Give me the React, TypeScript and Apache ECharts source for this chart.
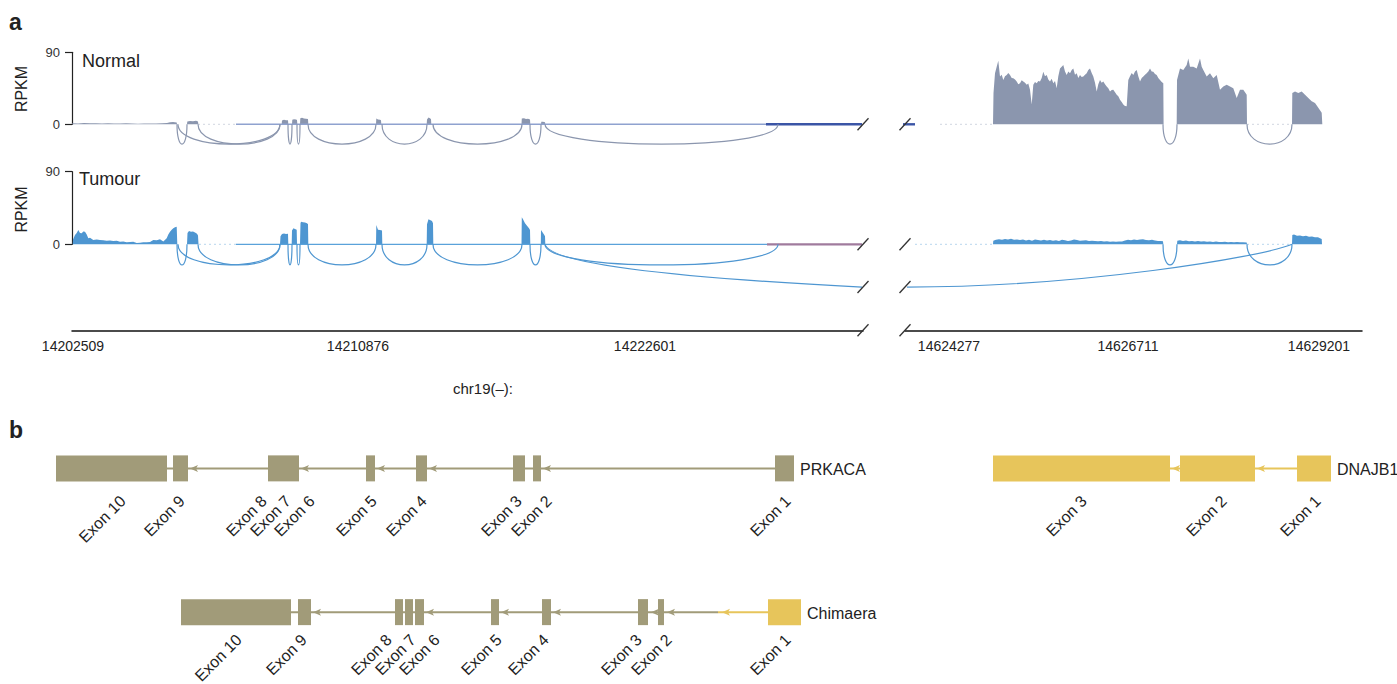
import React, { useEffect, useRef } from 'react';
import * as echarts from 'echarts';

const FONT = '"Liberation Sans", Arial, Helvetica, sans-serif';

// ---------------- Panel a : track positions (x) and RPKM (y) ----------------
const leftTicks = [73, 358, 645];
const leftTickLabels = ['14202509', '14210876', '14222601'];
const rightTicks = [949, 1128, 1319];
const rightTickLabels = ['14624277', '14626711', '14629201'];

const normalCovLeft = [
  [72, 0], [72.3, 1.4], [78, 1.1], [84, 1.5], [90, 1.2], [96, 1.4], [102, 1], [108, 1.3], [114, 1.1], [120, 0.9],
  [126, 1.2], [132, 1], [138, 0.8], [144, 1.1], [150, 0.9], [156, 1], [162, 1.2], [167, 1.6], [170, 2.6], [173, 3],
  [176.7, 2.4], [177, 0],
  [187, 0], [187.3, 3.5], [190, 4.1], [193, 3.8], [196, 4.3], [198, 3.6], [198.3, 0],
  [281.7, 0], [282, 4.6], [284, 5.6], [286, 5.2], [288, 5], [288.3, 0],
  [292, 0], [292.3, 5.6], [294, 6.3], [296, 6], [297, 5.4], [297.3, 0],
  [300, 0], [300.3, 7.6], [302, 8.2], [304, 7.2], [306, 6.9], [308, 6.5], [308.3, 0],
  [376, 0], [376.3, 7.2], [378, 6.1], [380, 5.6], [381, 5], [381.3, 0],
  [426.7, 0], [427, 6], [428.5, 8.4], [430, 7.6], [431, 6.2], [431.3, 0],
  [521.5, 0], [521.8, 7.2], [524, 7.6], [526, 6.6], [528, 6.9], [530, 6], [530.3, 0],
  [541, 0], [541.3, 3.1], [543, 3.3], [545, 2.6], [545.3, 0],
];

const normalCovRight = [
  [993, 0], [993.5, 39], [995, 63.7], [996.7, 72], [998.3, 79.3], [1000, 59.6], [1001.7, 62], [1003.3, 55.5],
  [1005, 60], [1006.7, 61.6], [1008.3, 64], [1010, 61.6], [1011.7, 58], [1013.3, 57.5], [1015, 56], [1016.7, 53.4],
  [1018.3, 50], [1020, 51.4], [1021.7, 55], [1023.3, 53.4], [1025, 52], [1026.7, 49.3], [1028.3, 51], [1030, 43.2],
  [1031.7, 24.7], [1033.3, 49.3], [1035, 53], [1036.7, 51.4], [1038.3, 54], [1040, 53.4], [1041.7, 58], [1043.3, 65.8],
  [1045, 60], [1046.7, 61.6], [1048.3, 56], [1050, 53.4], [1051.7, 57], [1053.3, 51.4], [1055, 54], [1056.7, 45.2],
  [1058.3, 60], [1060, 69.9], [1061.7, 72], [1063.3, 74], [1065, 66], [1066.7, 61.6], [1068.3, 66], [1070, 63.7],
  [1071.7, 68], [1073.3, 69.9], [1075, 62], [1076.7, 63.7], [1078.3, 58], [1080, 61.6], [1081.7, 59], [1083.3, 59.6],
  [1085, 62], [1086.7, 63.7], [1088.3, 68], [1090, 69.9], [1091.7, 64], [1093.3, 59.6], [1095, 52], [1096.7, 41.1],
  [1098.3, 50], [1100, 55.5], [1101.7, 52], [1103.3, 53.4], [1105, 50], [1106.7, 47.3], [1108.3, 45], [1110, 41.1],
  [1111.7, 43], [1113.3, 43.2], [1115, 40], [1116.7, 37], [1118.3, 35], [1120, 30.8], [1121.7, 28], [1123.3, 24.7],
  [1125, 23], [1126.7, 22.6], [1128.3, 55.5], [1130, 60], [1131.7, 64], [1133.3, 61.6], [1135, 66], [1136.7, 67.8],
  [1138.3, 60], [1140, 53.4], [1141.7, 58], [1143.3, 59.6], [1145, 62], [1146.7, 63.7], [1148.3, 66], [1150, 69.9],
  [1151.7, 66], [1153.3, 65.8], [1155, 63], [1156.7, 61.6], [1158.3, 58], [1160, 55.5], [1161.7, 53], [1163.3, 51.4],
  [1163.6, 0],
  [1176.7, 0], [1177, 55.5], [1180, 69.9], [1183.3, 67.8], [1186.7, 74], [1188.3, 82.2], [1190, 71.9], [1193.3, 71.9],
  [1196.7, 69.9], [1200, 82.2], [1201.7, 71.9], [1203.3, 67.8], [1206.7, 59.6], [1210, 63.7], [1213.3, 57.5],
  [1216.7, 61.6], [1220, 43.2], [1223.3, 47.3], [1226.7, 49.3], [1230, 47.3], [1233.3, 45.2], [1236.7, 32.9],
  [1240, 43.2], [1243.3, 43.2], [1246.7, 37], [1247, 0],
  [1292, 0], [1292.3, 39], [1295, 41.1], [1298.3, 39], [1301.7, 41.1], [1305, 37], [1308.3, 32.9], [1311.7, 28.8],
  [1315, 26.7], [1318.3, 20.6], [1321.7, 14.4], [1322.3, 0],
];

const tumourCovLeft = [
  [72.7, 0], [73, 6], [75, 11.5], [76.7, 14], [78.3, 17.7], [80, 14], [81.7, 13.6], [83.3, 16], [85, 15.6],
  [86.7, 12], [88.3, 7.4], [90, 8], [93.3, 5.3], [96.7, 6], [100, 5.3], [103.3, 5], [106.7, 4.5], [110, 4.8],
  [113.3, 4], [116.7, 4.5], [120, 3.2], [123.3, 3.5], [126.7, 2.6], [130, 3], [133.3, 3.2], [136.7, 1.5], [140, 2],
  [143.3, 2.5], [146.7, 2.6], [150, 3], [153.3, 5.3], [156.7, 5], [160, 6.2], [163.3, 3.5], [166.7, 7.4], [168.3, 12],
  [170, 15.6], [171.7, 18], [173.3, 19.8], [175, 21], [176.7, 21.8], [177.3, 0],
  [187, 0], [187.5, 14], [189, 16.5], [191, 15.6], [193, 16], [195, 14.5], [197, 13], [198, 11], [198.5, 0],
  [280, 0], [280.5, 10], [282, 12.8], [284, 13.5], [286, 12.8], [288, 13], [288.3, 0],
  [291.7, 0], [292, 17], [293.5, 19.8], [295, 19], [296.7, 18], [297, 0],
  [300, 0], [300.5, 26], [301, 28], [303, 27.2], [305, 27], [307, 26], [308, 25], [308.3, 0],
  [376, 0], [376.3, 24], [378, 18], [380, 17.6], [382, 17], [382.3, 0],
  [426.7, 0], [427, 25], [428.5, 31], [430, 30], [432, 29], [433, 26], [433.3, 0],
  [521.5, 0], [521.8, 33.4], [523, 31], [525, 26], [527, 23], [529, 20], [530, 17.7], [530.3, 0],
  [540.8, 0], [541, 17.7], [542.5, 15], [544, 12], [545, 10], [545.3, 0],
];

const tumourCovRight = [
  [993, 0], [993.3, 4.5], [996, 5.5], [999, 6.2], [1002, 5.5], [1005, 6.5], [1008, 5.8], [1011, 6.8], [1014, 5.5],
  [1017, 6], [1020, 5.2], [1023, 5.8], [1026, 4.8], [1029, 5.5], [1032, 4.5], [1035, 6], [1038, 5.2], [1041, 4.6],
  [1044, 5.5], [1047, 4.8], [1050, 5.4], [1053, 4.5], [1056, 5], [1059, 4.2], [1062, 5.6], [1065, 5], [1068, 4.2],
  [1071, 4.8], [1074, 5.8], [1077, 5.2], [1080, 4.5], [1083, 4.8], [1086, 5], [1089, 4.2], [1092, 4.5], [1095, 4],
  [1098, 3.8], [1101, 4.2], [1104, 3.6], [1107, 3.8], [1110, 3.2], [1113, 3.6], [1116, 3.3], [1119, 3.5],
  [1122, 3.4], [1125, 4.8], [1128, 5.6], [1131, 5], [1134, 6], [1137, 5.2], [1140, 5.8], [1143, 6.2], [1146, 5.4],
  [1149, 5], [1152, 5.6], [1155, 4.6], [1158, 4.2], [1161, 4], [1163, 3.8], [1163.3, 0],
  [1177, 0], [1177.3, 4.5], [1180, 5], [1183, 4.2], [1186, 4.6], [1189, 3.8], [1192, 4.2], [1195, 3.6], [1198, 4],
  [1201, 3.4], [1204, 3.8], [1207, 3.2], [1210, 3.6], [1213, 3], [1216, 3.5], [1219, 3], [1222, 2.8], [1225, 3.2],
  [1228, 2.6], [1231, 3], [1234, 2.6], [1237, 2.8], [1240, 2.4], [1243, 2.6], [1246.7, 2.2], [1247, 0],
  [1292, 0], [1292.3, 11.5], [1294, 12], [1297, 10.5], [1300, 10.8], [1303, 10], [1306, 10.5], [1309, 9.4],
  [1312, 9.8], [1315, 8.6], [1318, 8.8], [1320, 7.4], [1321.7, 6.5], [1322, 0],
];

// splice junctions: [from, to, drawn depth in RPKM units]
const normalJunctionsLeft = [
  [177, 187, -24.7], [178, 280, -24.7], [198, 280, -24.7], [288, 292, -24.7], [297, 300, -24.7],
  [308, 376, -24.7], [382, 427, -24.7], [433, 522, -24.7], [530, 541, -24.7], [545, 778, -24.7],
];
const normalJunctionsRight = [[1163, 1177, -24.7], [1247, 1292, -24.7]];
const tumourJunctionsLeft = [
  [177, 187, -25.6], [178, 280, -25.6], [198, 280, -25.6], [288, 292, -25.6], [297, 300, -25.6],
  [308, 376, -25.6], [382, 427, -25.6], [433, 522, -25.6], [530, 541, -25.6], [545, 778, -25.6],
];
const tumourJunctionsRight = [[1163, 1177, -25.6], [1247, 1292, -25.6]];
const chimericJunctionLeft = [[545, 862, -53]];
const chimericJunctionRight = [[907, 1292, -53]];

// low-coverage baseline stretches [from, to]
const normalLineLeft = [236, 766];
const normalLineLeftDark = [766, 862];
const normalLineRightDark = [892, 915];
const tumourLineLeft = [236, 767];
const tumourLineLeftDark = [767, 862];
const normalFaint = { left: [[198, 236]], right: [[940, 993], [1247, 1292]] };
const tumourFaint = { left: [[199, 236]], right: [[915, 992], [1247, 1292]] };

// ---------------- Panel b : gene models ----------------
// [label, start, end, label anchor]
const prkacaExons: [string, number, number, number][] = [
  ['Exon 10', 56, 167, 123], ['Exon 9', 173, 188, 182], ['Exon 8', 268, 278, 264], ['Exon 7', 278, 288, 288],
  ['Exon 6', 288, 299, 312], ['Exon 5', 366, 375, 374], ['Exon 4', 416, 427, 424], ['Exon 3', 513, 525, 519],
  ['Exon 2', 533, 541, 549], ['Exon 1', 775, 794, 788],
];
const dnajb1Exons: [string, number, number, number][] = [
  ['Exon 3', 993, 1170, 1084], ['Exon 2', 1180, 1255, 1224], ['Exon 1', 1297, 1331, 1318],
];
const chimaeraExonsPrkaca: [string, number, number, number][] = [
  ['Exon 10', 181, 291, 239], ['Exon 9', 298, 311, 304], ['Exon 8', 395, 403, 389], ['Exon 7', 405, 413, 413],
  ['Exon 6', 415, 424, 437], ['Exon 5', 491, 499, 499], ['Exon 4', 542, 551, 546], ['Exon 3', 638, 648, 639],
  ['Exon 2', 658, 664, 669],
];
const chimaeraExonsDnajb1: [string, number, number, number][] = [['Exon 1', 768, 801, 788]];
const chimaeraBreakpoint = 718;
const prkacaArrows = [190, 301, 377, 429, 543];
const dnajb1Arrows = [1172, 1257];
const chimaeraArrowsPrkaca = [313, 426, 501, 553, 651, 667];
const chimaeraArrowsDnajb1 = [722];
const geneRows = ['PRKACA / DNAJB1', 'Chimaera'];

// ---------------- styles ----------------
const C_NORMAL = '#8b96ae';
const C_NORMAL_LINE = '#8fa2cf';
const C_NORMAL_DARK = '#3b55a6';
const C_TUMOUR = '#4e96d1';
const C_TUMOUR_LINE = '#5aa2da';
const C_TUMOUR_DARK = '#a07b9d';
const C_OLIVE = '#a19b79';
const C_YELLOW = '#e7c55b';
const AXIS_OFFSET = 86;
const L_MIN = 72, L_MAX = 863, R_MIN = 905, R_MAX = 1362;

function coverage(i: number, data: number[][], color: string) {
  return {
    type: 'line', xAxisIndex: i, yAxisIndex: i, data, symbol: 'none', showSymbol: false,
    lineStyle: { width: 0 }, areaStyle: { color, opacity: 1 }, clip: false, silent: true, z: 2,
  };
}
function segLine(i: number, seg: number[], color: string, width: number, dotted = false) {
  return {
    type: 'line', xAxisIndex: i, yAxisIndex: i, data: [[seg[0], 0], [seg[1], 0]], symbol: 'none',
    lineStyle: { color, width, type: dotted ? [2, 3] : 'solid', opacity: dotted ? 0.4 : 1 },
    clip: false, silent: true, z: 3,
  };
}
function arcs(i: number, data: number[][], color: string) {
  return {
    type: 'custom', xAxisIndex: i, yAxisIndex: i, data, encode: { x: [0, 1], y: 2 }, clip: false, silent: true, z: 4,
    renderItem: (_p: any, api: any) => {
      const a = api.coord([api.value(0), 0]);
      const b = api.coord([api.value(1), 0]);
      const c = api.coord([api.value(0), api.value(2) / 0.75]);
      return {
        type: 'bezierCurve',
        shape: { x1: a[0], y1: a[1], cpx1: a[0], cpy1: c[1], cpx2: b[0], cpy2: c[1], x2: b[0], y2: b[1] },
        style: { stroke: color, lineWidth: 1.2, fill: null },
      };
    },
  };
}
function chimericHalf(i: number, data: number[][], side: 'left' | 'right') {
  return {
    type: 'custom', xAxisIndex: i, yAxisIndex: i, data, encode: { x: [0, 1], y: 2 }, clip: false, silent: true, z: 4,
    renderItem: (_p: any, api: any) => {
      const x1 = api.value(0), x2 = api.value(1), d = api.value(2), L = x2 - x1;
      let pts: number[][];
      if (side === 'left') pts = [[x1, 0], [x1 + 0.016 * L, 0.4 * d], [x1 + 0.33 * L, 0.75 * d], [x2, d]];
      else pts = [[x1, d], [x1 + 0.45 * L, d], [x2 - 0.08 * L, 0.3 * d], [x2, 0]];
      const p = pts.map((q) => api.coord(q));
      return {
        type: 'bezierCurve',
        shape: { x1: p[0][0], y1: p[0][1], cpx1: p[1][0], cpy1: p[1][1], cpx2: p[2][0], cpy2: p[2][1], x2: p[3][0], y2: p[3][1] },
        style: { stroke: C_TUMOUR, lineWidth: 1.2, fill: null },
      };
    },
  };
}
function breaks(i: number, data: number[][]) {
  // [x, y, onAxis]
  return {
    type: 'custom', xAxisIndex: i, yAxisIndex: i, data, encode: { x: 0, y: 1 }, clip: false, silent: true, z: 6,
    renderItem: (params: any, api: any) => {
      const p = api.coord([api.value(0), api.value(1)]);
      const cs = params.coordSys;
      const y = api.value(2) === 1 ? cs.y + cs.height + AXIS_OFFSET : p[1];
      return { type: 'line', shape: { x1: p[0] - 5.5, y1: y + 6, x2: p[0] + 5.5, y2: y - 6 }, style: { stroke: '#333', lineWidth: 1.3 } };
    },
  };
}

function buildOption() {
  const exonItems: { label: string; s: number; e: number; lx: number; row: number; color: string }[] = [];
  prkacaExons.forEach(([label, s, e, lx]) => exonItems.push({ label, s, e, lx, row: 0, color: C_OLIVE }));
  dnajb1Exons.forEach(([label, s, e, lx]) => exonItems.push({ label, s, e, lx, row: 0, color: C_YELLOW }));
  chimaeraExonsPrkaca.forEach(([label, s, e, lx]) => exonItems.push({ label, s, e, lx, row: 1, color: C_OLIVE }));
  chimaeraExonsDnajb1.forEach(([label, s, e, lx]) => exonItems.push({ label, s, e, lx, row: 1, color: C_YELLOW }));

  const span = (ex: [string, number, number, number][]) => [Math.min(...ex.map((x) => x[1])), Math.max(...ex.map((x) => x[2]))];
  const pSpan = span(prkacaExons), dSpan = span(dnajb1Exons), cpSpan = span(chimaeraExonsPrkaca), cdSpan = span(chimaeraExonsDnajb1);
  const introns = [
    { s: pSpan[0], e: pSpan[1], row: 0, color: C_OLIVE },
    { s: dSpan[0], e: dSpan[1], row: 0, color: C_YELLOW },
    { s: cpSpan[0], e: chimaeraBreakpoint, row: 1, color: C_OLIVE },
    { s: chimaeraBreakpoint, e: cdSpan[1], row: 1, color: C_YELLOW },
  ];
  const arrows = [
    ...prkacaArrows.map((x) => ({ x, row: 0, color: C_OLIVE })),
    ...dnajb1Arrows.map((x) => ({ x, row: 0, color: C_YELLOW })),
    ...chimaeraArrowsPrkaca.map((x) => ({ x, row: 1, color: C_OLIVE })),
    ...chimaeraArrowsDnajb1.map((x) => ({ x, row: 1, color: C_YELLOW })),
  ];
  const geneNames = [
    { name: 'PRKACA', x: pSpan[1], row: 0 },
    { name: 'DNAJB1', x: dSpan[1], row: 0 },
    { name: 'Chimaera', x: cdSpan[1], row: 1 },
  ];
  const labelOffset = [30, 25];

  const yLeft = (gridIndex: number) => ({
    gridIndex, type: 'value', min: 0, max: 90, interval: 90,
    axisLine: { show: true, lineStyle: { color: '#222', width: 1.2 } },
    axisTick: { show: true, length: 7, lineStyle: { color: '#222', width: 1.2 } },
    axisLabel: { margin: 12, fontSize: 13, color: '#333', fontFamily: FONT },
    splitLine: { show: false },
  });
  const yHidden = (gridIndex: number) => ({ gridIndex, type: 'value', min: 0, max: 90, show: false, splitLine: { show: false } });
  const xHidden = (gridIndex: number, min: number, max: number) => ({ gridIndex, type: 'value', min, max, show: false, splitLine: { show: false } });
  const xShown = (gridIndex: number, min: number, max: number, ticks: number[], labels: string[]) => ({
    gridIndex, type: 'value', min, max, offset: AXIS_OFFSET, position: 'bottom',
    axisLine: { show: true, onZero: false, lineStyle: { color: '#111', width: 1.5 } },
    axisTick: { show: false },
    axisLabel: {
      customValues: ticks, margin: 9, fontSize: 14, color: '#222', fontFamily: FONT, hideOverlap: false,
      formatter: (v: number) => { const k = ticks.indexOf(v); return k >= 0 ? labels[k] : ''; },
    },
    splitLine: { show: false },
  });

  const series: any[] = [
    coverage(0, normalCovLeft, C_NORMAL),
    coverage(1, normalCovRight, C_NORMAL),
    coverage(2, tumourCovLeft, C_TUMOUR),
    coverage(3, tumourCovRight, C_TUMOUR),
    segLine(0, normalLineLeft, C_NORMAL_LINE, 1.6),
    segLine(0, normalLineLeftDark, C_NORMAL_DARK, 2.4),
    segLine(1, normalLineRightDark, C_NORMAL_DARK, 2.4),
    segLine(2, tumourLineLeft, C_TUMOUR_LINE, 1.2),
    segLine(2, tumourLineLeftDark, C_TUMOUR_DARK, 2.2),
    ...normalFaint.left.map((s) => segLine(0, s, C_NORMAL, 1, true)),
    ...normalFaint.right.map((s) => segLine(1, s, C_NORMAL, 1, true)),
    ...tumourFaint.left.map((s) => segLine(2, s, C_TUMOUR, 1, true)),
    ...tumourFaint.right.map((s) => segLine(3, s, C_TUMOUR, 1, true)),
    arcs(0, normalJunctionsLeft, C_NORMAL),
    arcs(1, normalJunctionsRight, C_NORMAL),
    arcs(2, tumourJunctionsLeft, C_TUMOUR),
    arcs(3, tumourJunctionsRight, C_TUMOUR),
    chimericHalf(2, chimericJunctionLeft, 'left'),
    chimericHalf(3, chimericJunctionRight, 'right'),
    breaks(0, [[L_MAX, 0, 0]]),
    breaks(1, [[R_MIN, 0, 0]]),
    breaks(2, [[L_MAX, 0, 0], [L_MAX, chimericJunctionLeft[0][2], 0], [L_MAX, 0, 1]]),
    breaks(3, [[R_MIN, 0, 0], [R_MIN, chimericJunctionRight[0][2], 0], [R_MIN, 0, 1]]),
    // ---- panel b ----
    {
      type: 'custom', xAxisIndex: 4, yAxisIndex: 4, data: introns.map((d) => [d.s, d.row, d.e]), encode: { x: [0, 2], y: 1 },
      clip: false, silent: true, z: 2,
      renderItem: (p: any, api: any) => {
        const d = introns[p.dataIndex];
        const a = api.coord([d.s, d.row]), b = api.coord([d.e, d.row]);
        return { type: 'line', shape: { x1: a[0], y1: a[1], x2: b[0], y2: b[1] }, style: { stroke: d.color, lineWidth: 2 } };
      },
    },
    {
      type: 'custom', xAxisIndex: 4, yAxisIndex: 4, data: arrows.map((d) => [d.x, d.row]), encode: { x: 0, y: 1 },
      clip: false, silent: true, z: 3,
      renderItem: (p: any, api: any) => {
        const d = arrows[p.dataIndex];
        const c = api.coord([d.x, d.row]);
        return {
          type: 'polygon',
          shape: { points: [[c[0], c[1]], [c[0] + 8, c[1] - 3.5], [c[0] + 6, c[1]], [c[0] + 8, c[1] + 3.5]] },
          style: { fill: d.color },
        };
      },
    },
    {
      type: 'custom', xAxisIndex: 4, yAxisIndex: 4, data: exonItems.map((d) => [d.s, d.row, d.e]), encode: { x: [0, 2], y: 1 },
      clip: false, silent: true, z: 4,
      renderItem: (p: any, api: any) => {
        const d = exonItems[p.dataIndex];
        const a = api.coord([d.s, d.row]), b = api.coord([d.e, d.row]);
        return { type: 'rect', shape: { x: a[0], y: a[1] - 13, width: b[0] - a[0], height: 26 }, style: { fill: d.color } };
      },
    },
    {
      type: 'custom', xAxisIndex: 4, yAxisIndex: 4, data: exonItems.map((d) => [d.lx, d.row]), encode: { x: 0, y: 1 },
      clip: false, silent: true, z: 5,
      renderItem: (p: any, api: any) => {
        const d = exonItems[p.dataIndex];
        const c = api.coord([d.lx, d.row]);
        return {
          type: 'text', x: c[0], y: c[1] + labelOffset[d.row], rotation: Math.PI / 4,
          style: { text: d.label, fontSize: 16, fontFamily: FONT, fill: '#222', align: 'right', verticalAlign: 'middle' },
        };
      },
    },
    {
      type: 'custom', xAxisIndex: 4, yAxisIndex: 4, data: geneNames.map((d) => [d.x, d.row]), encode: { x: 0, y: 1 },
      clip: false, silent: true, z: 5,
      renderItem: (p: any, api: any) => {
        const d = geneNames[p.dataIndex];
        const c = api.coord([d.x, d.row]);
        return {
          type: 'text', x: c[0] + 6, y: c[1] + 1,
          style: { text: d.name, fontSize: 16, fontFamily: FONT, fill: '#222', align: 'left', verticalAlign: 'middle' },
        };
      },
    },
  ];

  const txt = (text: string, x: number, y: number, size: number, extra: any = {}) => ({
    type: 'text', x, y, rotation: extra.rotation || 0, silent: true,
    style: {
      text, fontSize: size, fontFamily: FONT, fontWeight: extra.bold ? 'bold' : 'normal', fill: '#222',
      align: extra.align || 'left', verticalAlign: 'middle', textAlign: extra.align || 'left', textVerticalAlign: 'middle',
    },
  });

  return {
    animation: false,
    backgroundColor: '#ffffff',
    grid: [
      { left: L_MIN, top: 52.3, width: L_MAX - L_MIN, height: 72 },
      { left: R_MIN, top: 52.3, width: R_MAX - R_MIN, height: 72 },
      { left: L_MIN, top: 171.7, width: L_MAX - L_MIN, height: 72.6 },
      { left: R_MIN, top: 171.7, width: R_MAX - R_MIN, height: 72.6 },
      { left: 0, top: 396.5, width: 1397, height: 294 },
    ],
    xAxis: [
      xHidden(0, L_MIN, L_MAX),
      xHidden(1, R_MIN, R_MAX),
      xShown(2, L_MIN, L_MAX, leftTicks, leftTickLabels),
      xShown(3, R_MIN, R_MAX, rightTicks, rightTickLabels),
      xHidden(4, 0, 1397),
    ],
    yAxis: [
      yLeft(0), yHidden(1), yLeft(2), yHidden(3),
      { gridIndex: 4, type: 'category', data: geneRows, inverse: true, show: false },
    ],
    graphic: {
      elements: [
        txt('a', 9, 22, 23, { bold: true }),
        txt('b', 9, 430, 23, { bold: true }),
        txt('Normal', 82, 61, 18),
        txt('Tumour', 79, 179, 18),
        txt('RPKM', 21, 89, 16, { rotation: Math.PI / 2, align: 'center' }),
        txt('RPKM', 21.5, 209.5, 16, { rotation: Math.PI / 2, align: 'center' }),
        txt('chr19(\u2013):', 483, 388, 15, { align: 'center' }),
      ],
    },
    series,
  };
}

export default function App() {
  const ref = useRef<HTMLDivElement>(null);
  useEffect(() => {
    const chart = echarts.init(ref.current as HTMLDivElement, null, { renderer: 'svg' });
    chart.setOption(buildOption() as any);
    return () => chart.dispose();
  }, []);
  return (
    <div
      ref={ref}
      style={{ position: 'fixed', left: 0, top: 0, width: 1397, height: 684, background: '#fff' }}
    />
  );
}
